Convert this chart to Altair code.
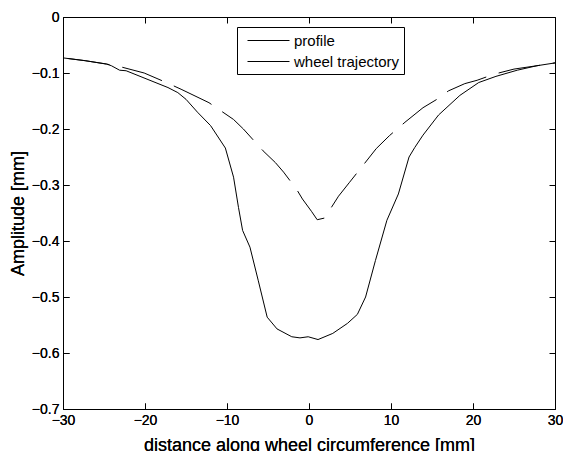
import altair as alt
import pandas as pd

# distance along wheel circumference [mm] and amplitude [mm]
profile_x = [-30, -27.3, -24.7, -24.1, -23.1, -22.3, -17.2, -16.0, -15.0, -13.6, -12.0, -10.2,
             -9.2, -8.6, -8.1, -7.2, -6.2, -5.1, -3.9, -2.1, -1.1, -0.1, 1.1, 2.9, 4.7, 5.9,
             6.9, 8.1, 9.5, 10.9, 12.2, 12.9, 13.9, 15.8, 18.4, 20.7, 22.8, 25.4, 27.8, 30]
profile_y = [-0.073, -0.078, -0.084, -0.087, -0.095, -0.096, -0.126, -0.135, -0.147, -0.170, -0.194, -0.234,
             -0.286, -0.340, -0.381, -0.411, -0.470, -0.536, -0.557, -0.571, -0.573, -0.571, -0.576, -0.565, -0.547, -0.531,
             -0.500, -0.435, -0.363, -0.316, -0.250, -0.233, -0.211, -0.175, -0.140, -0.117, -0.106, -0.095, -0.087, -0.082]

traj_x = [-30, -27.3, -24.7, -22.7, -20.1, -17.4, -15.6, -12.2, -10.9, -9.2, -8.0, -5.6, -4.1, -3.1,
          -1.5, -0.8, 0.3, 1.0, 1.9, 3.6, 4.9, 6.8, 8.2, 9.8, 11.7, 13.9, 15.6, 17.0, 19.0, 20.5,
          22.6, 25.0, 27.8, 30]
traj_y = [-0.073, -0.078, -0.084, -0.090, -0.100, -0.117, -0.129, -0.153, -0.166, -0.183, -0.200, -0.239, -0.260, -0.277,
          -0.308, -0.325, -0.347, -0.362, -0.359, -0.320, -0.296, -0.261, -0.235, -0.212, -0.188, -0.162, -0.147, -0.132, -0.119, -0.113,
          -0.102, -0.093, -0.087, -0.082]

series_names = ["profile", "wheel trajectory"]
x_ticks = [-30, -20, -10, 0, 10, 20, 30]
y_ticks = [0, -0.1, -0.2, -0.3, -0.4, -0.5, -0.6, -0.7]

df_profile = pd.DataFrame({"x": profile_x, "y": profile_y, "series": series_names[0]})
df_traj = pd.DataFrame({"x": traj_x, "y": traj_y, "series": series_names[1]})

FONT = "Liberation Sans"

x_scale = alt.Scale(domain=[-30, 30], nice=False, zero=False)
y_scale = alt.Scale(domain=[-0.7, 0], nice=False, zero=False)
color_scale = alt.Scale(domain=series_names, range=["black", "black"])

x_axis = alt.Axis(values=x_ticks, orient="bottom", offset=-6, tickSize=6, domain=False, grid=False,
                  labelPadding=4, labelFlush=False, labelOverlap=False, tickColor="black",
                  labelColor="black", labelFont=FONT, labelFontSize=14,
                  title="distance along wheel circumference [mm]", titleFont=FONT, titleFontSize=18,
                  titleFontWeight="normal", titleColor="black", titlePadding=9)
y_axis = alt.Axis(values=y_ticks, orient="left", offset=-6, tickSize=6, domain=False, grid=False,
                  labelPadding=4, labelFlush=False, labelOverlap=False, tickColor="black",
                  labelColor="black", labelFont=FONT, labelFontSize=14, format=".1~f",
                  title="Amplitude [mm]", titleFont=FONT, titleFontSize=18,
                  titleFontWeight="normal", titleColor="black", titlePadding=4)
x_axis_top = alt.Axis(values=x_ticks, orient="top", offset=-6, tickSize=6, domain=False, grid=False,
                      labels=False, tickColor="black", title="")
y_axis_right = alt.Axis(values=y_ticks, orient="right", offset=-6, tickSize=6, domain=False, grid=False,
                        labels=False, tickColor="black", title="")

legend = alt.Legend(title=None, orient="none", legendX=174, legendY=10,
                    symbolType="M-0.333,0H4.333", symbolSize=324, symbolStrokeWidth=1,
                    symbolStrokeColor="black",
                    labelFont=FONT, labelFontSize=15, labelColor="black", labelOffset=34,
                    strokeColor="black", fillColor="white", padding=4, rowPadding=3,
                    cornerRadius=0)

profile_line = alt.Chart(df_profile).mark_line(strokeWidth=1, clip=True).encode(
    x=alt.X("x:Q", scale=x_scale, axis=x_axis),
    y=alt.Y("y:Q", scale=y_scale, axis=y_axis),
    color=alt.Color("series:N", scale=color_scale, legend=legend),
)

traj_line = alt.Chart(df_traj).mark_line(strokeWidth=1, strokeDash=[42, 13], strokeDashOffset=50, clip=True).encode(
    x=alt.X("x:Q", scale=x_scale, axis=x_axis),
    y=alt.Y("y:Q", scale=y_scale, axis=y_axis),
    color=alt.Color("series:N", scale=color_scale, legend=legend),
)

frame_axes = alt.Chart(df_profile).mark_line(opacity=0).encode(
    x=alt.X("x:Q", scale=x_scale, axis=x_axis_top),
    y=alt.Y("y:Q", scale=y_scale, axis=y_axis_right),
)

chart = alt.layer(profile_line, traj_line, frame_axes).resolve_axis(
    x="independent", y="independent"
).properties(
    width=492, height=392,
    autosize=alt.AutoSizeParams(type="none"),
    padding={"left": 55, "top": 9, "right": 8, "bottom": 42},
    background="white",
).configure_view(stroke="black", strokeWidth=1)

chart.save("out.html", embed_options={"renderer": "svg", "actions": False})
